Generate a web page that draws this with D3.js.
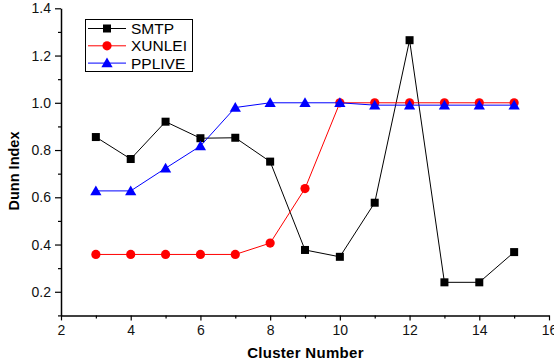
<!DOCTYPE html>
<html><head><meta charset="utf-8">
<script src="https://cdn.jsdelivr.net/npm/d3@7"></script>
<style>body{margin:0;background:#fff}svg{display:block}text{font-family:"Liberation Sans",Arial,sans-serif}</style>
</head><body><svg id="c" width="554" height="363"></svg>
<script>
const clusters = [3,4,5,6,7,8,9,10,11,12,13,14,15];
const smtp   = [0.855,0.762,0.92,0.85,0.852,0.751,0.377,0.348,0.577,1.265,0.24,0.24,0.368];
const xunlei = [0.358,0.358,0.358,0.358,0.358,0.406,0.637,1.0,1.0,1.0,1.0,1.0,1.0];
const pplive = [0.627,0.627,0.723,0.817,0.98,1.0,1.0,1.0,0.99,0.99,0.99,0.99,0.99];
const xTicks = [2,4,6,8,10,12,14,16];
const yTicks = [0.2,0.4,0.6,0.8,1.0,1.2,1.4];
const seriesNames = ["SMTP","XUNLEI","PPLIVE"];

const svg = d3.select("#c");
const x = d3.scaleLinear().domain([2,16]).range([61,549]);
const y = d3.scaleLinear().domain([0.1,1.4]).range([315.4,8.3]);

// axes
svg.append("g").attr("transform","translate(0,315.4)")
  .call(d3.axisBottom(x).tickValues(xTicks).tickFormat(d3.format("d")).tickSizeInner(5).tickSizeOuter(0).tickPadding(5));
svg.append("g").attr("transform","translate(0,315.4)")
  .call(d3.axisBottom(x).tickValues(d3.range(3,16,2)).tickFormat("").tickSizeInner(3).tickSizeOuter(0))
  .select(".domain").remove();
svg.append("g").attr("transform","translate(61,0)")
  .call(d3.axisLeft(y).tickValues(yTicks).tickFormat(d3.format(".1f")).tickSizeInner(6).tickSizeOuter(0).tickPadding(4));
svg.append("g").attr("transform","translate(61,0)")
  .call(d3.axisLeft(y).tickValues([0.1,0.3,0.5,0.7,0.9,1.1,1.3]).tickFormat("").tickSizeInner(3).tickSizeOuter(0))
  .select(".domain").remove();
svg.selectAll(".domain").attr("stroke","#000").attr("stroke-width",1.5);
svg.selectAll(".tick line").attr("stroke","#000").attr("stroke-width",1.2);
svg.selectAll(".tick text").attr("font-size",14).attr("fill","#111").style("font-family","'Liberation Sans',Arial,sans-serif");

// titles
svg.append("text").attr("x",305.5).attr("y",358).attr("text-anchor","middle")
  .attr("font-size",15).attr("font-weight","bold").attr("letter-spacing",0.3).text("Cluster Number");
svg.append("text").attr("transform","translate(18.5,171) rotate(-90)").attr("text-anchor","middle")
  .attr("font-size",14.5).attr("font-weight","bold").text("Dunn Index");

const line = d3.line().x((d,i)=>x(clusters[i])).y(d=>y(d));
const colors = ["#000","#ff0000","#0000ff"];
const data = [smtp, xunlei, pplive];

function marker(g, type, cx, cy, col){
  if(type===0) g.append("rect").attr("x",cx-4).attr("y",cy-4).attr("width",8).attr("height",8).attr("fill",col);
  else if(type===1) g.append("circle").attr("cx",cx).attr("cy",cy).attr("r",4.6).attr("fill",col);
  else g.append("path").attr("d",d3.symbol(d3.symbolTriangle,55)()).attr("transform",`translate(${cx},${cy+1})`).attr("fill",col);
}

data.forEach((vals,k)=>{
  const g = svg.append("g");
  g.append("path").datum(vals).attr("d",line).attr("fill","none").attr("stroke",colors[k]).attr("stroke-width",1);
  vals.forEach((v,i)=>marker(g,k,x(clusters[i]),y(v),colors[k]));
});

// legend
const lg = svg.append("g");
lg.append("rect").attr("x",85.5).attr("y",19.5).attr("width",107).attr("height",52)
  .attr("fill","#fff").attr("stroke","#000").attr("stroke-width",1);
seriesNames.forEach((n,k)=>{
  const yy = 28.5 + k*17.3;
  lg.append("line").attr("x1",88).attr("x2",126).attr("y1",yy).attr("y2",yy).attr("stroke",colors[k]).attr("stroke-width",1);
  marker(lg,k,107,yy,colors[k]);
  lg.append("text").attr("x",131).attr("y",yy+5.5).attr("font-size",15.5).attr("fill","#000").text(n);
});
</script></body></html>
